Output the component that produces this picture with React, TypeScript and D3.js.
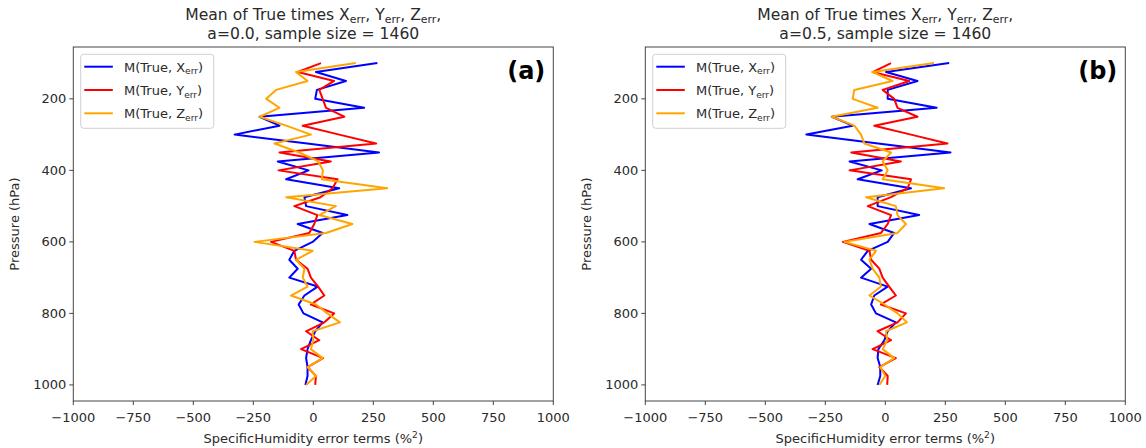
import React from "react";
import * as d3 from "d3";

const levels = [100,125,150,175,200,225,250,275,300,325,350,375,400,425,450,475,500,525,550,575,600,625,650,675,700,725,750,775,800,825,850,875,900,925,950,975,1000];

const aX = [267,11,136,15,8,212,-224,-141,-328,-25,274,-148,-20,-113,108,-37,-30,142,-65,39,-3,-79,-100,-65,-100,18,-37,-61,-41,39,8,-10,-24,-30,-24,-24,-33];
const aY = [32,-65,87,25,39,53,129,-44,108,262,-141,73,-145,101,80,30,-79,17,4,-17,-176,-79,-72,-24,-10,20,46,-10,87,46,-30,25,-51,41,-24,11,8];
const aZ = [177,-72,-24,-155,-196,-141,-224,-113,-10,-162,-58,21,40,36,308,-113,94,25,163,53,-245,-3,-72,-37,-44,-24,-93,11,59,111,-3,0,-10,39,-24,11,-30];

const bX = [266,3,134,10,10,214,-223,-136,-329,-30,272,-149,-15,-115,107,-32,-32,141,-66,37,10,-73,-101,-59,-101,10,-46,-59,-39,44,10,-4,-29,-32,-21,-21,-32];
const bY = [24,-53,100,-11,37,51,134,-46,107,259,-142,65,-149,107,93,24,-73,24,10,-18,-177,-66,-59,-25,-11,16,44,-18,86,51,-32,24,-53,44,-25,10,8];
const bZ = [203,-53,30,-129,-136,-32,-223,-129,-101,-87,24,-11,10,-11,245,-80,44,51,86,51,-170,-39,-66,-53,-25,-18,-66,-4,51,90,3,8,-11,37,-21,0,-25];

const xTicks = [-1000,-750,-500,-250,0,250,500,750,1000];
const yTicks = [200,400,600,800,1000];
const seriesNames = ["X", "Y", "Z"];
const seriesColors = ["#0000ff", "#ff0000", "#ffa500"];

const panels = [
  { label: "(a)", aText: "a=0.0, sample size = 1460", data: [aX, aY, aZ], left: 73.3 },
  { label: "(b)", aText: "a=0.5, sample size = 1460", data: [bX, bY, bZ], left: 645.3 },
];

const FONT = "DejaVu Sans, sans-serif";
const TXT = "#2a2a2a";
const FS = 13;
const TFS = 15.6;

function Panel({ p }: { p: typeof panels[number] }) {
  const left = p.left;
  const width = 480;
  const top = 47;
  const bottom = 401;
  const x = d3.scaleLinear().domain([-1000, 1000]).range([left, left + width]);
  const y = d3.scaleLinear().domain([55, 1045]).range([top, bottom]);
  const cx = left + width / 2;
  const mkLine = (vals: number[]) =>
    d3.line<number>().x((v) => x(v)).y((_, i) => y(levels[i]))(vals) || "";
  const sub = TFS * 0.7;
  return (
    <g>
      <text x={cx} y={20} textAnchor="middle" fontSize={TFS} fill={TXT} fontFamily={FONT}>
        Mean of True times X<tspan fontSize={sub} dy={2.5}>err</tspan>
        <tspan dy={-2.5}>, Y</tspan><tspan fontSize={sub} dy={2.5}>err</tspan>
        <tspan dy={-2.5}>, Z</tspan><tspan fontSize={sub} dy={2.5}>err</tspan>
        <tspan dy={-2.5}>,</tspan>
      </text>
      <text x={cx} y={39} textAnchor="middle" fontSize={TFS} fill={TXT} fontFamily={FONT}>
        {p.aText}
      </text>
      <defs>
        <clipPath id={"clip" + p.label}>
          <rect x={left} y={top} width={width} height={bottom - top} />
        </clipPath>
      </defs>
      <g clipPath={`url(#clip${p.label})`}>
        {p.data.map((vals, k) => (
          <path key={k} d={mkLine(vals)} fill="none" stroke={seriesColors[k]} strokeWidth={2} strokeLinejoin="round" />
        ))}
      </g>
      <rect x={left} y={top} width={width} height={bottom - top} fill="none" stroke="#444" strokeWidth={1} />
      {xTicks.map((t) => (
        <g key={"x" + t}>
          <line x1={x(t)} x2={x(t)} y1={bottom} y2={bottom + 4} stroke="#444" strokeWidth={1} />
          <text x={x(t)} y={bottom + 20.5} textAnchor="middle" fontSize={FS} fill={TXT} fontFamily={FONT}>
            {t < 0 ? "\u2212" + Math.abs(t) : String(t)}
          </text>
        </g>
      ))}
      {yTicks.map((t) => (
        <g key={"y" + t}>
          <line x1={left - 4} x2={left} y1={y(t)} y2={y(t)} stroke="#444" strokeWidth={1} />
          <text x={left - 7} y={y(t) + 4.5} textAnchor="end" fontSize={FS} fill={TXT} fontFamily={FONT}>
            {t}
          </text>
        </g>
      ))}
      <text x={cx} y={443} textAnchor="middle" fontSize={FS} fill={TXT} fontFamily={FONT}>
        SpecificHumidity error terms (%<tspan fontSize={FS * 0.7} dy={-5}>2</tspan><tspan dy={5}>)</tspan>
      </text>
      <text transform={`translate(${left - 54},${(top + bottom) / 2}) rotate(-90)`} textAnchor="middle" fontSize={FS} fill={TXT} fontFamily={FONT}>
        Pressure (hPa)
      </text>
      <g>
        <rect x={left + 7.4} y={top + 7.3} width={133} height={74} rx={3} fill="#fff" fillOpacity={0.8} stroke="#d0d0d0" strokeWidth={1} />
        {seriesNames.map((s, k) => {
          const ry = top + 19.7 + k * 23.3;
          return (
            <g key={s}>
              <line x1={left + 11} x2={left + 39.5} y1={ry} y2={ry} stroke={seriesColors[k]} strokeWidth={2} />
              <text x={left + 50.7} y={ry + 5} fontSize={FS} fill={TXT} fontFamily={FONT}>
                M(True, {s}<tspan fontSize={FS * 0.7} dy={2.5}>err</tspan><tspan dy={-2.5}>)</tspan>
              </text>
            </g>
          );
        })}
      </g>
      <text x={left + width - 8} y={79} textAnchor="end" fontSize={24} fontWeight="bold" fill="#000" fontFamily={FONT}>
        {p.label}
      </text>
    </g>
  );
}

export default function App() {
  return (
    <svg width={1146} height={448} style={{ position: "fixed", left: 0, top: 0, background: "#fff" }}>
      <rect x={0} y={0} width={1146} height={448} fill="#fff" />
      {panels.map((p) => (
        <Panel key={p.label} p={p} />
      ))}
    </svg>
  );
}
